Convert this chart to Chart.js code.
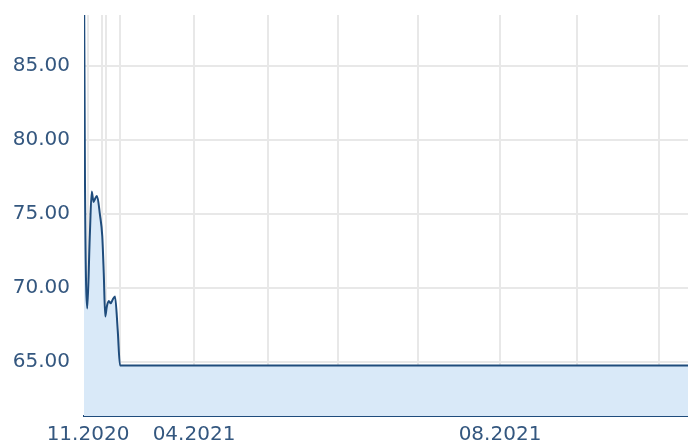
<!DOCTYPE html>
<html>
<head>
<meta charset="utf-8">
<script src="https://cdn.jsdelivr.net/npm/chart.js@4/dist/chart.umd.min.js"></script>
<style>
  html, body { margin: 0; padding: 0; background: #fff; }
  canvas { display: block; }
</style>
</head>
<body>
<canvas id="grafico" width="688" height="443"></canvas>
<script>
// x = days since the start of the series, y = price
let dias = [0, 0.4, 1.3, 2.3, 3.1, 3.8, 4.4, 5.2, 6.4, 7.3, 7.9, 8.5, 9.1, 9.9, 10.7, 11.5, 12.4, 13.5, 14.4, 241.6];
let precios = [92, 77, 68.6, 73.4, 76.5, 75.8, 76.0, 76.2, 74.9, 73.5, 71.0, 68.05, 68.7, 69.1, 68.95, 69.2, 69.4, 67.1, 64.75, 64.75];

// month gridlines and their labels
let mesesPos = [1.6, 7.2, 8.8, 14.4, 44, 73.6, 101.6, 133.6, 166.4, 197.2, 230];
let mesesLabel = ["11.2020", "", "", "", "04.2021", "", "", "", "08.2021", "", ""];

let yTicks = [65, 70, 75, 80, 85];

let azul = "#1f4c7c";
let textoColor = "#34577f";

const puntos = dias.map((d, i) => ({ x: d, y: precios[i] }));

const conf = {
    type: "line",
    data: {
        datasets: [{
            data: puntos,
            borderColor: azul,
            borderWidth: 2,
            backgroundColor: "#d9e9f8",
            fill: "start",
            pointRadius: 0,
            tension: 0.3,
            cubicInterpolationMode: "monotone"
        }]
    },
    options: {
        responsive: false,
        devicePixelRatio: 1,
        animation: false,
        layout: { padding: { top: 15, right: 0, left: 0, bottom: 0 } },
        plugins: {
            legend: { display: false },
            tooltip: { enabled: false }
        },
        scales: {
            x: {
                type: "linear",
                min: 0,
                max: 241.6,
                afterBuildTicks: scale => {
                    scale.ticks = mesesPos.map(v => ({ value: v }));
                },
                afterFit: scale => {
                    scale.height = 27;
                    scale.paddingLeft = 0;
                    scale.paddingRight = 0;
                },
                ticks: {
                    autoSkip: false,
                    maxRotation: 0,
                    padding: 7,
                    color: textoColor,
                    font: { family: "DejaVu Sans", size: 20 },
                    callback: (v, i) => mesesLabel[i]
                },
                grid: { color: "#e8e8e8", lineWidth: 2, drawTicks: false },
                border: { color: azul, width: 2 }
            },
            y: {
                min: 61.33,
                max: 88.43,
                afterBuildTicks: scale => {
                    scale.ticks = yTicks.map(v => ({ value: v }));
                },
                afterFit: scale => {
                    scale.width = 84;
                    scale.paddingTop = 0;
                    scale.paddingBottom = 0;
                },
                ticks: {
                    padding: 14,
                    color: textoColor,
                    font: { family: "DejaVu Sans", size: 20 },
                    callback: v => v.toFixed(2)
                },
                grid: { color: "#e8e8e8", lineWidth: 2, drawTicks: false },
                border: { display: false }
            }
        }
    }
};

new Chart(document.querySelector("#grafico"), conf);
</script>
</body>
</html>
